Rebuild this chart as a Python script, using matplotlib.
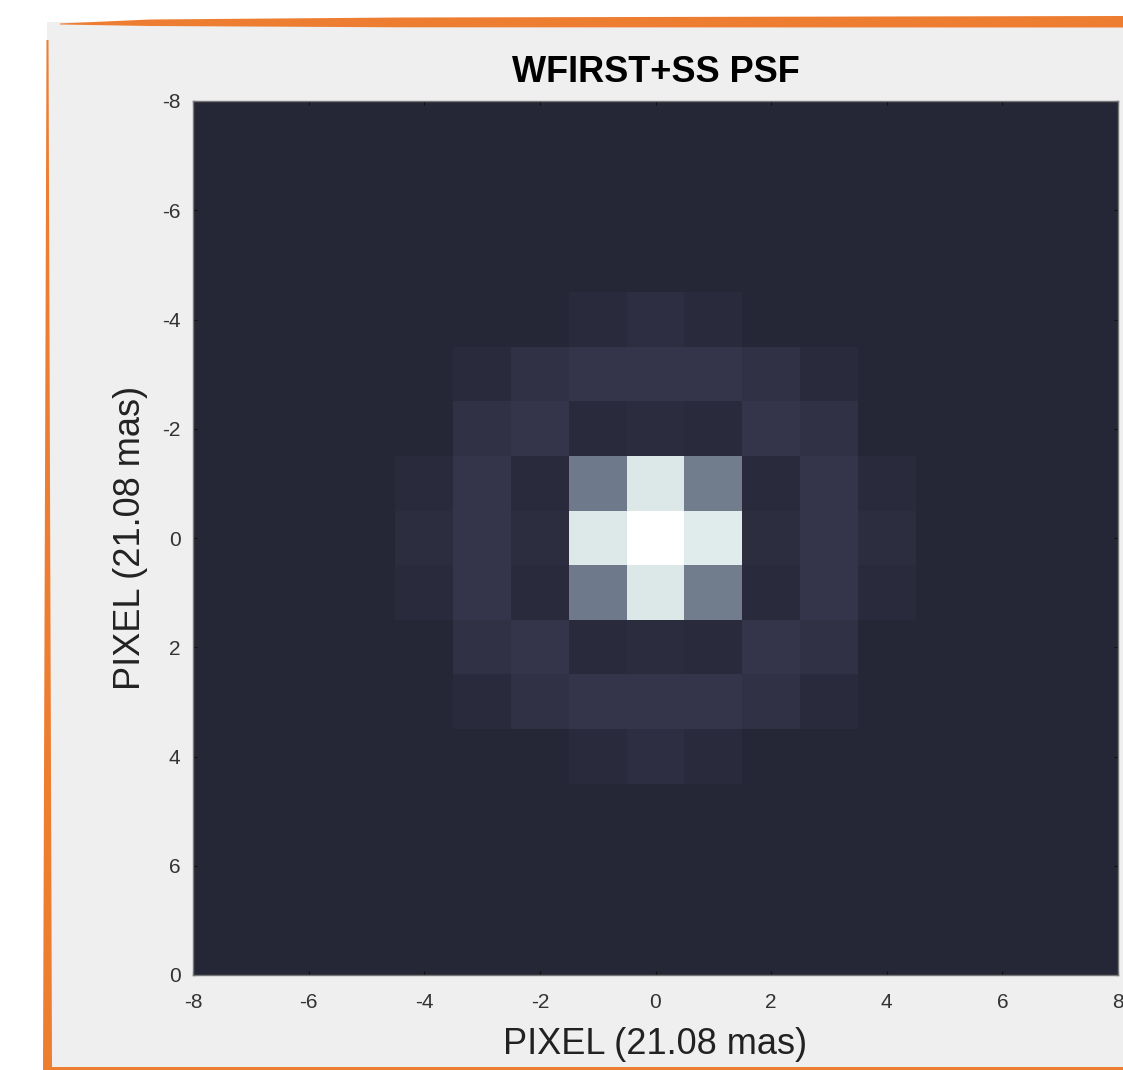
import numpy as np
import matplotlib
matplotlib.use("Agg")
import matplotlib.pyplot as plt
from matplotlib.colors import LinearSegmentedColormap
from matplotlib.patches import Polygon, Rectangle
from matplotlib.transforms import Affine2D

plt.rcParams['font.family'] = ['Liberation Sans', 'DejaVu Sans']

# ---- data -------------------------------------------------------------
title = "WFIRST+SS PSF"
xlabel = "PIXEL (21.08 mas)"
ylabel = "PIXEL (21.08 mas)"
pixel_coords = list(range(-8, 9))            # 17 pixel centres per axis
xticks = [-8, -6, -4, -2, 0, 2, 4, 6, 8]
xticklabels = ["-8", "-6", "-4", "-2", "0", "2", "4", "6", "8"]
yticks = [-8, -6, -4, -2, 0, 2, 4, 6, 8]
yticklabels = ["-8", "-6", "-4", "-2", "0", "2", "4", "6", "0"]

# central 9x9 core of the PSF (rows y=-4..4 top->bottom, cols x=-4..4), relative intensity
psf_core = [
    [0.000, 0.000, 0.000, 0.030, 0.053, 0.030, 0.000, 0.000, 0.000],
    [0.000, 0.030, 0.075, 0.095, 0.095, 0.095, 0.075, 0.030, 0.000],
    [0.000, 0.075, 0.095, 0.030, 0.045, 0.030, 0.095, 0.075, 0.000],
    [0.030, 0.095, 0.030, 0.350, 0.850, 0.360, 0.030, 0.095, 0.030],
    [0.047, 0.095, 0.047, 0.855, 1.000, 0.870, 0.047, 0.095, 0.047],
    [0.030, 0.095, 0.030, 0.350, 0.850, 0.360, 0.030, 0.095, 0.030],
    [0.000, 0.075, 0.095, 0.030, 0.045, 0.030, 0.095, 0.075, 0.000],
    [0.000, 0.030, 0.075, 0.095, 0.095, 0.095, 0.075, 0.030, 0.000],
    [0.000, 0.000, 0.000, 0.030, 0.053, 0.030, 0.000, 0.000, 0.000],
]

# ---- build image ----------------------------------------------------
n = len(pixel_coords)
core = np.array(psf_core)
pad = (n - core.shape[0]) // 2
psf = np.pad(core, pad, mode="constant", constant_values=0.0)

cmap = LinearSegmentedColormap.from_list(
    "psf",
    [(0.00, "#252636"), (0.10, "#36364c"), (0.35, "#6f7a8c"),
     (0.85, "#dce8e8"), (1.00, "#ffffff")])

W, H = 1123, 1070
fig = plt.figure(figsize=(W / 100, H / 100), dpi=100, facecolor="white")

# pixel-space transform for the slide frame decoration
px = Affine2D().scale(1 / W, -1 / H).translate(0, 1) + fig.transFigure
fig.patches.append(Rectangle((47, 22), W - 47, H - 22, transform=px,
                             facecolor="#efefef", edgecolor="none", zorder=-3))
orange = "#ed7d31"
fig.patches.append(Polygon([(60, 23.5), (150, 19.5), (400, 17.5), (W, 16),
                            (W, 27.5), (400, 27.3), (150, 26), (60, 24.5)],
                           closed=True, transform=px, facecolor=orange,
                           edgecolor="none", zorder=-2))
fig.patches.append(Polygon([(46.5, 40), (48.5, 40), (52, H), (43, H)],
                           closed=True, transform=px, facecolor=orange,
                           edgecolor="none", zorder=-2))
fig.patches.append(Rectangle((43, H - 3), W - 43, 3, transform=px,
                             facecolor=orange, edgecolor="none", zorder=-2))

ax = fig.add_axes([193 / W, 1 - 975 / H, (1118 - 193) / W, (975 - 101) / H])
half = 0.5
ext = [pixel_coords[0] - half, pixel_coords[-1] + half,
       pixel_coords[-1] + half, pixel_coords[0] - half]
ax.imshow(psf, cmap=cmap, vmin=0, vmax=1, extent=ext,
          interpolation="nearest", aspect="auto")
ax.set_xlim(-8, 8)
ax.set_ylim(8, -8)

ax.set_xticks(xticks)
ax.set_xticklabels(xticklabels)
ax.set_yticks(yticks)
ax.set_yticklabels(yticklabels)
ax.tick_params(axis="both", direction="in", length=3, width=0.8,
               color="#111111", labelsize=15, labelcolor="#333333",
               top=True, right=True)
ax.tick_params(axis="x", pad=13)
ax.tick_params(axis="y", pad=9)
for s in ax.spines.values():
    s.set_color("#777777")
    s.set_linewidth(1.0)

ax.set_title(title, fontsize=26, fontweight="bold", pad=14, color="#000000")
ax.set_xlabel(xlabel, fontsize=26, color="#222222", labelpad=11)
ax.set_ylabel(ylabel, fontsize=26, color="#222222", labelpad=10)

fig.savefig("out.png", dpi=100, facecolor=fig.get_facecolor())
